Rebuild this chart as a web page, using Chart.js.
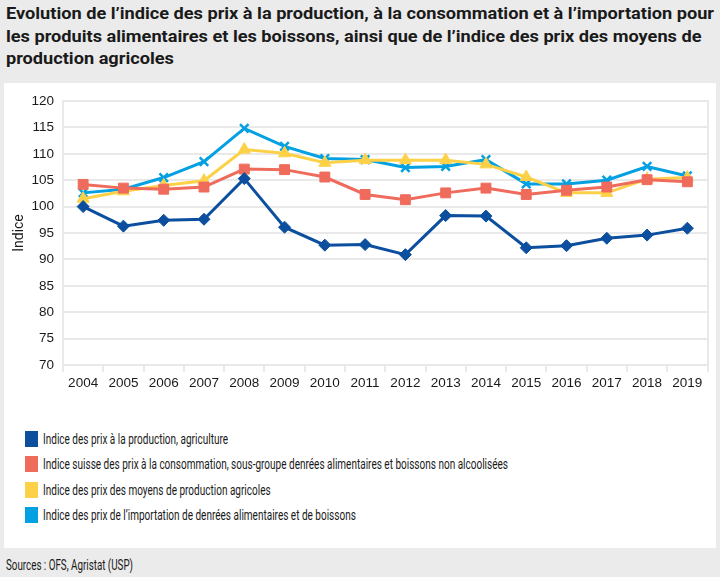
<!DOCTYPE html>
<html>
<head>
<meta charset="utf-8">
<script src="https://cdn.jsdelivr.net/npm/chart.js@4"></script>
<style>
  html, body { margin:0; padding:0; }
  body { width:720px; height:577px; background:#ebebeb; position:relative; overflow:hidden; font-family:Roboto, "Noto Sans", sans-serif; color:#1a1a1a; }
  #title { position:absolute; left:6px; top:3px; font-weight:bold; font-size:16px; line-height:22.5px; }
  .fit { display:inline-block; white-space:nowrap; transform-origin:0 50%; }
  #panel { position:absolute; left:4px; top:83px; width:712px; height:465px; background:#fff; }
  #wrap { position:absolute; left:4px; top:83px; width:712px; height:320px; }
  #legend { position:absolute; left:25px; top:427px; font-size:15px; }
  .li { height:25.3px; position:relative; }
  .sw { position:absolute; left:0; top:4px; width:13px; height:16px; }
  .lt { position:absolute; left:18px; top:2px; line-height:20px; }
  #src { position:absolute; left:6px; top:555px; font-size:15px; line-height:20px; }
</style>
</head>
<body>
<div id="title">
  <span class="fit tl">Evolution de l’indice des prix à la production, à la consommation et à l’importation pour</span><br>
  <span class="fit tl">les produits alimentaires et les boissons, ainsi que de l’indice des prix des moyens de</span><br>
  <span class="fit tl">production agricoles</span>
</div>
<div id="panel"></div>
<div id="wrap"><canvas id="c"></canvas></div>
<div id="legend"></div>
<div id="src"><span class="fit" id="srct">Sources : OFS, Agristat (USP)</span></div>
<script>
const years = ["2004","2005","2006","2007","2008","2009","2010","2011","2012","2013","2014","2015","2016","2017","2018","2019"];
const producerPrices = [100.0, 96.3, 97.4, 97.6, 105.3, 96.1, 92.7, 92.8, 90.9, 98.3, 98.2, 92.2, 92.6, 94.0, 94.6, 95.9];
const consumerPrices = [104.2, 103.5, 103.3, 103.7, 107.1, 107.0, 105.6, 102.3, 101.3, 102.6, 103.5, 102.3, 103.1, 103.7, 105.1, 104.7];
const inputPrices = [101.5, 102.9, 104.0, 104.9, 110.8, 110.1, 108.3, 108.8, 108.8, 108.8, 108.0, 105.6, 102.6, 102.6, 105.2, 105.5];
const importPrices = [102.6, 103.3, 105.5, 108.5, 114.8, 111.4, 109.1, 108.9, 107.4, 107.6, 108.9, 104.3, 104.3, 105.0, 107.6, 105.8];
const seriesNames = [
  "Indice des prix à la production, agriculture",
  "Indice suisse des prix à la consommation, sous-groupe denrées alimentaires et boissons non alcoolisées",
  "Indice des prix des moyens de production agricoles",
  "Indice des prix de l’importation de denrées alimentaires et de boissons"
];
const yTicks = { min: 70, max: 120, step: 5 };

const colors = ["#0b4f9e", "#ef6b5b", "#fdd147", "#03a0e2"];
const styles = [
  { pointStyle: "rectRot", pointRadius: 6 },
  { pointStyle: "rect", pointRadius: 7 },
  { pointStyle: "triangle", pointRadius: 7 },
  { pointStyle: "crossRot", pointRadius: 6 }
];
const values = [producerPrices, consumerPrices, inputPrices, importPrices];

const datasets = values.map((v, i) => ({
  label: seriesNames[i],
  data: v,
  borderColor: colors[i],
  backgroundColor: colors[i],
  pointBackgroundColor: colors[i],
  pointBorderColor: colors[i],
  borderWidth: 3,
  pointBorderWidth: i === 3 ? 2.5 : 1,
  pointStyle: styles[i].pointStyle,
  pointRadius: styles[i].pointRadius,
  tension: 0
}));

const gridColor = "#e9e9e9";
new Chart(document.getElementById("c"), {
  type: "line",
  data: { labels: years, datasets },
  options: {
    responsive: true,
    maintainAspectRatio: false,
    animation: false,
    layout: { padding: { top: 18, right: 8, bottom: 0, left: 0 } },
    plugins: { legend: { display: false }, tooltip: { enabled: false } },
    scales: {
      x: {
        offset: true,
        grid: { drawOnChartArea: false, color: gridColor, lineWidth: 2, tickLength: 7, offset: true },
        border: { color: gridColor, width: 2 },
        ticks: { color: "#1a1a1a", font: { family: "Liberation Sans", size: 13.5 }, padding: 3, maxRotation: 0, autoSkip: false },
        afterFit: s => { s.height = 38; }
      },
      y: {
        min: yTicks.min, max: yTicks.max,
        ticks: { stepSize: yTicks.step, color: "#1a1a1a", font: { family: "Liberation Sans", size: 13.5 }, padding: 9 },
        grid: { color: gridColor, lineWidth: 2, drawTicks: false },
        border: { color: gridColor, width: 2 },
        title: { display: true, text: "Indice", color: "#1a1a1a", font: { family: "Roboto", size: 14 }, padding: { top: 7, bottom: 2 } },
        afterFit: s => { s.width = 59; }
      },
      yr: {
        position: "right",
        min: yTicks.min, max: yTicks.max,
        ticks: { display: false },
        grid: { drawOnChartArea: false, drawTicks: false },
        border: { color: gridColor, width: 2 },
        afterFit: s => { s.width = 0; }
      }
    }
  }
});

// HTML legend built from the datasets
const lg = document.getElementById("legend");
datasets.forEach(d => {
  const row = document.createElement("div"); row.className = "li";
  const sw = document.createElement("div"); sw.className = "sw"; sw.style.background = d.borderColor;
  const t = document.createElement("span"); t.className = "lt fit"; t.textContent = d.label;
  row.appendChild(sw); row.appendChild(t); lg.appendChild(row);
});

function fitGroup(els, refEl, target) {
  const w = refEl.getBoundingClientRect().width;
  const k = target / w;
  els.forEach(e => e.style.transform = "scaleX(" + k + ")");
}
const tls = Array.from(document.querySelectorAll(".tl"));
fitGroup(tls, tls[0], 708);
const lts = Array.from(document.querySelectorAll(".lt"));
fitGroup(lts, lts[1], 465);
const s = document.getElementById("srct");
fitGroup([s], s, 127);
</script>
</body>
</html>
